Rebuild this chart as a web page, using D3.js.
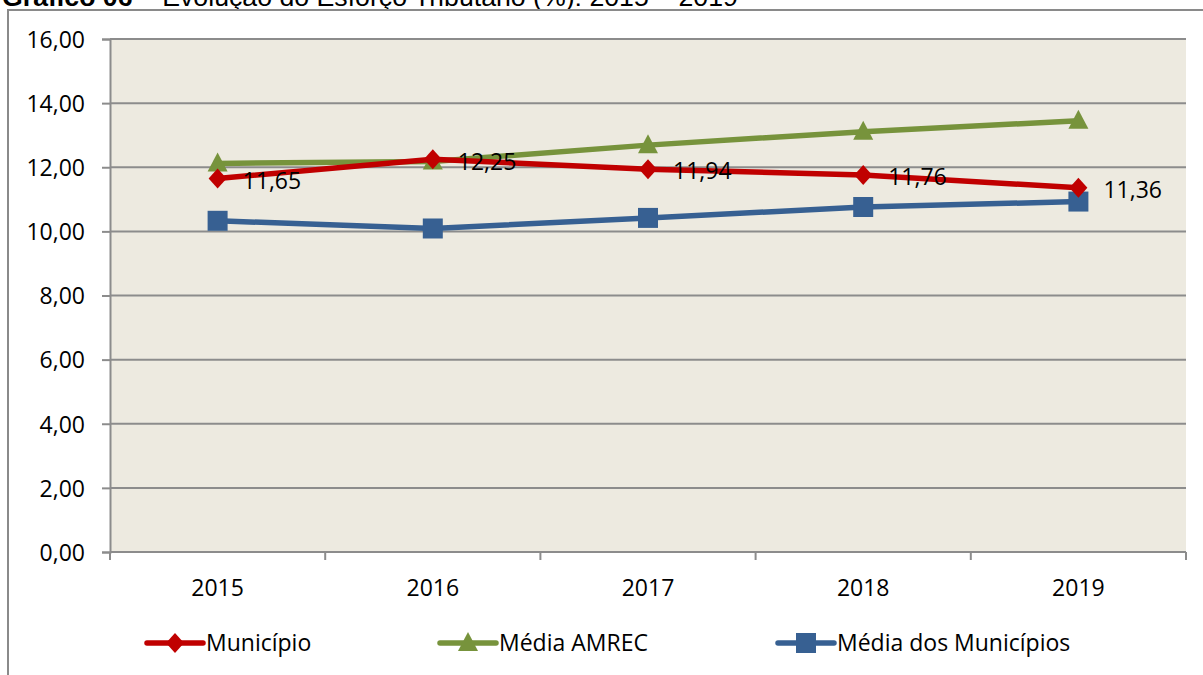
<!DOCTYPE html>
<html>
<head>
<meta charset="utf-8">
<script src="https://cdn.jsdelivr.net/npm/d3@7"></script>
<style>
  body { margin: 0; background: #fff; }
  svg { display: block; }
  .tick text { font-family: "Open Sans", Lato, sans-serif; font-size: 23px; fill: #000; }
</style>
</head>
<body>
<div id="chart"></div>
<script>
// data
var years = ["2015", "2016", "2017", "2018", "2019"];
var municipio = [11.65, 12.25, 11.94, 11.76, 11.36];
var mediaAmrec = [12.12, 12.18, 12.69, 13.11, 13.45];
var mediaMunicipios = [10.33, 10.09, 10.42, 10.76, 10.93];
var yTicks = [0, 2, 4, 6, 8, 10, 12, 14, 16];
var seriesNames = ["Município", "Média AMREC", "Média dos Municípios"];

var svgWidth = 1203;
var svgHeight = 675;

var margin = { top: 39, left: 110, right: 17, bottom: 123 };
var width = svgWidth - margin.left - margin.right;
var height = svgHeight - margin.top - margin.bottom;

var svg = d3.select("#chart").append("svg")
  .attr("width", svgWidth)
  .attr("height", svgHeight);

// title, cut at the top like the scan
var title = svg.append("text")
  .attr("x", 2)
  .attr("y", 6)
  .style("font-family", "'Liberation Sans', Arial, sans-serif")
  .style("font-size", "26.7px");
title.append("tspan").style("font-weight", "bold").text("Gráfico 06");
title.append("tspan").text(" – Evolução do Esforço Tributário (%): 2015 – 2019");

// outer frame
svg.append("path")
  .attr("d", "M8," + svgHeight + " V10 H" + svgWidth)
  .attr("fill", "none")
  .attr("stroke", "#8a8a8a")
  .attr("stroke-width", 2);

var chartGroup = svg.append("g")
  .attr("transform", `translate(${margin.left}, ${margin.top})`);

var xBand = d3.scaleBand().domain(years).range([0, width]);
var xScale = d => xBand(d) + xBand.bandwidth() / 2;
var yScale = d3.scaleLinear().domain([0, 16]).range([height, 0]);

chartGroup.append("rect")
  .attr("width", width)
  .attr("height", height)
  .attr("fill", "#EDEAE0");

// gridlines
chartGroup.selectAll(".grid")
  .data(yTicks.slice(1))
  .enter()
  .append("line")
  .attr("x1", 0)
  .attr("x2", width)
  .attr("y1", d => yScale(d))
  .attr("y2", d => yScale(d))
  .attr("stroke", "#8c8c8c")
  .attr("stroke-width", 2);

var fmt = d => d3.format(".2f")(d).replace(".", ",");

// y axis
var yAxis = d3.axisLeft(yScale).tickValues(yTicks).tickFormat(fmt).tickSize(8).tickPadding(17);
var yg = chartGroup.append("g").call(yAxis);
yg.select(".domain").attr("stroke", "#8c8c8c").attr("stroke-width", 2);
yg.selectAll(".tick line").attr("stroke", "#8c8c8c").attr("stroke-width", 2);
yg.selectAll(".tick text").attr("dy", "0.36em");

// x axis with ticks on category boundaries
var xg = chartGroup.append("g").attr("transform", `translate(0, ${height})`);
xg.append("line")
  .attr("x1", 0).attr("x2", width)
  .attr("stroke", "#8c8c8c").attr("stroke-width", 2);
xg.selectAll(".bound")
  .data(years.concat(["end"]))
  .enter()
  .append("line")
  .attr("x1", (d, i) => i * xBand.step())
  .attr("x2", (d, i) => i * xBand.step())
  .attr("y1", 0).attr("y2", 8)
  .attr("stroke", "#8c8c8c").attr("stroke-width", 2);
xg.selectAll(".tick")
  .data(years)
  .enter()
  .append("g").attr("class", "tick")
  .append("text")
  .attr("x", d => xScale(d))
  .attr("y", 44)
  .attr("text-anchor", "middle")
  .text(d => d);

var series = [
  { name: seriesNames[0], values: municipio, color: "#C00000", marker: "diamond" },
  { name: seriesNames[1], values: mediaAmrec, color: "#77933C", marker: "triangle" },
  { name: seriesNames[2], values: mediaMunicipios, color: "#376092", marker: "square" }
];

function markerPath(type) {
  if (type == "diamond") return "M0,-10 L9,0 L0,10 L-9,0 Z";
  if (type == "triangle") return "M0,-11 L10,8 L-10,8 Z";
  return "M-10,-10 H10 V10 H-10 Z";
}

var line = d3.line()
  .x((d, i) => xScale(years[i]))
  .y(d => yScale(d));

// draw blue first, then green, then red on top
[2, 1, 0].forEach(function(k) {
  var s = series[k];
  chartGroup.append("path")
    .datum(s.values)
    .attr("d", line)
    .attr("fill", "none")
    .attr("stroke", s.color)
    .attr("stroke-width", 5.5)
    .attr("stroke-linejoin", "round");

  chartGroup.selectAll(".m" + k)
    .data(s.values)
    .enter()
    .append("path")
    .attr("d", markerPath(s.marker))
    .attr("transform", (d, i) => `translate(${xScale(years[i])}, ${yScale(d)})`)
    .attr("fill", s.color);
});

// data labels for Município
chartGroup.selectAll(".lbl")
  .data(municipio)
  .enter()
  .append("text")
  .attr("x", (d, i) => xScale(years[i]) + 25)
  .attr("y", d => yScale(d) + 2)
  .attr("dy", "0.36em")
  .style("font-family", "'Open Sans', Lato, sans-serif")
  .style("font-size", "23px")
  .text(d => fmt(d));

// legend
var legendX = [147, 440, 778];
var legend = svg.append("g").attr("transform", "translate(0, 643)");
series.forEach(function(s, i) {
  var g = legend.append("g").attr("transform", `translate(${legendX[i]}, 0)`);
  g.append("line")
    .attr("x1", 0).attr("x2", 56)
    .attr("stroke", s.color)
    .attr("stroke-width", 5.5)
    .attr("stroke-linecap", "round");
  g.append("path")
    .attr("d", markerPath(s.marker))
    .attr("transform", "translate(28, 0)")
    .attr("fill", s.color);
  g.append("text")
    .attr("x", 59)
    .attr("dy", "0.36em")
    .style("font-family", "'Open Sans', Lato, sans-serif")
    .style("font-size", "23px")
    .text(s.name);
});
</script>
</body>
</html>
